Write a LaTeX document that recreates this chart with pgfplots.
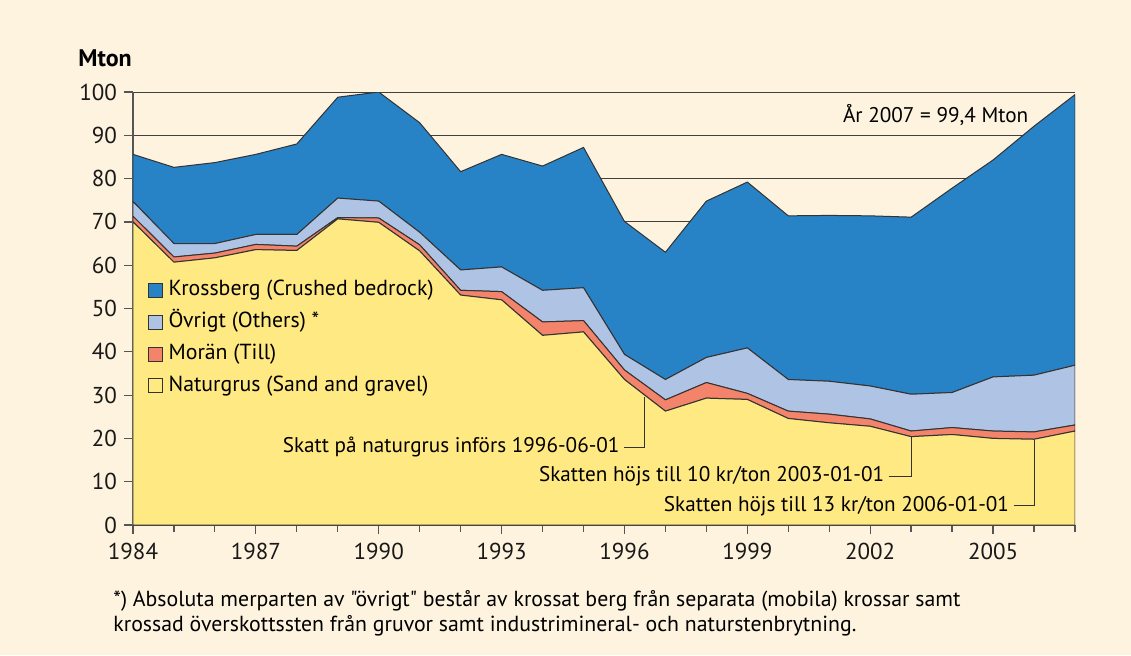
\documentclass[border=0pt]{standalone}
\usepackage{pgfplots}
\pgfplotsset{compat=1.18}
\usepackage{fontspec}
\setmainfont{PT Sans}[Ligatures=TeXOff]
\definecolor{bg}{HTML}{FEF3DF}
\definecolor{sand}{HTML}{FFE983}
\definecolor{moran}{HTML}{F3836A}
\definecolor{ovrigt}{HTML}{AFC4E4}
\definecolor{kross}{HTML}{2882C6}
\definecolor{edge}{HTML}{333333}
\definecolor{axgray}{HTML}{555555}
\begin{document}
\begin{tikzpicture}[x=0.5pt,y=0.5pt]
\fill[bg] (-133,-130) rectangle (998,525);
\begin{axis}[
  at={(0,0)}, anchor=south west, scale only axis,
  width=471pt, height=216.5pt,
  xmin=1984, xmax=2007, ymin=0, ymax=100,
  axis x line*=bottom, axis y line*=left,
  axis line style={draw=axgray, line width=0.6pt, -},
  tick align=outside,
  xtick={1984,1987,...,2005}, minor xtick={1984,...,2007},
  ytick={0,10,...,100},
  major tick length=4.5pt, minor tick length=3.5pt,
  tick style={draw=axgray, line width=0.6pt},
  ymajorgrids, grid style={draw=black!75, line width=0.5pt},
  /pgf/number format/assume math mode=true,
  /pgf/number format/1000 sep={},
  tick label style={font=\fontsize{11.5}{13}\selectfont, text=black!90},
  xticklabel style={yshift=-1pt},
  stack plots=y,
  reverse legend,
  legend cell align=left,
  legend image code/.code={\draw[#1, draw=edge, line width=0.5pt] (0pt,-3.5pt) rectangle (7pt,3.5pt); \path (10pt,0pt);},
  legend style={draw=none, fill=none, at={(axis cs:1984.2,57.5)}, anchor=north west,
    font=\fontsize{10.9}{12}\selectfont, row sep=5.9pt,
    nodes={inner sep=0pt, text height=7.6pt, text depth=2.4pt},
    /tikz/every even column/.append style={column sep=0pt}},
]
\addplot[fill=sand, draw=edge, line width=0.5pt] coordinates {
(1984,70.0) (1985,60.7) (1986,61.7) (1987,63.6) (1988,63.4) (1989,70.7) (1990,69.9) (1991,63.3)
(1992,53.1) (1993,52.0) (1994,43.8) (1995,44.6) (1996,33.6) (1997,26.3) (1998,29.3) (1999,29.0)
(2000,24.6) (2001,23.6) (2002,22.8) (2003,20.4) (2004,20.9) (2005,20.0) (2006,19.8) (2007,21.7)} \closedcycle;
\addlegendentry{Naturgrus (Sand and gravel)}
\addplot[fill=moran, draw=edge, line width=0.5pt] coordinates {
(1984,1.3) (1985,1.2) (1986,1.1) (1987,1.2) (1988,1.0) (1989,0.3) (1990,1.0) (1991,1.4)
(1992,1.1) (1993,1.9) (1994,3.1) (1995,2.6) (1996,2.2) (1997,2.6) (1998,3.6) (1999,1.4)
(2000,1.7) (2001,2.0) (2002,1.7) (2003,1.3) (2004,1.6) (2005,1.7) (2006,1.7) (2007,1.4)} \closedcycle;
\addlegendentry{Morän (Till)}
\addplot[fill=ovrigt, draw=edge, line width=0.5pt] coordinates {
(1984,3.4) (1985,3.1) (1986,2.2) (1987,2.3) (1988,2.7) (1989,4.5) (1990,3.9) (1991,2.9)
(1992,4.7) (1993,5.7) (1994,7.3) (1995,7.6) (1996,3.6) (1997,4.7) (1998,5.8) (1999,10.5)
(2000,7.3) (2001,7.6) (2002,7.6) (2003,8.5) (2004,8.1) (2005,12.5) (2006,13.1) (2007,13.8)} \closedcycle;
\addlegendentry{Övrigt (Others) *}
\addplot[fill=kross, draw=edge, line width=0.5pt] coordinates {
(1984,10.9) (1985,17.6) (1986,18.7) (1987,18.5) (1988,20.9) (1989,23.3) (1990,25.2) (1991,25.3)
(1992,22.7) (1993,26.0) (1994,28.7) (1995,32.4) (1996,30.7) (1997,29.4) (1998,36.1) (1999,38.3)
(2000,37.8) (2001,38.3) (2002,39.3) (2003,40.9) (2004,47.2) (2005,50.1) (2006,57.5) (2007,62.5)} \closedcycle;
\addlegendentry{Krossberg (Crushed bedrock)}
\coordinate (t0) at (axis cs:2005.87,94.7);
\coordinate (t1) at (axis cs:1995.89,18.0);
\coordinate (l1a) at (axis cs:1995.99,18.0);
\coordinate (l1b) at (axis cs:1996.48,29.6);
\coordinate (t2) at (axis cs:2002.35,11.3);
\coordinate (l2a) at (axis cs:2002.45,11.3);
\coordinate (l2b) at (axis cs:2003.0,20.4);
\coordinate (t3) at (axis cs:2005.40,4.4);
\coordinate (l3a) at (axis cs:2005.50,4.4);
\coordinate (l3b) at (axis cs:2006.0,19.6);
\end{axis}
\begin{scope}[every node/.style={anchor=east, inner sep=0pt, font=\fontsize{10.6}{12}\selectfont}]
\node at (t0) {År 2007 = 99,4 Mton};
\node at (t1) {Skatt på naturgrus införs 1996-06-01};
\node at (t2) {Skatten höjs till 10 kr/ton 2003-01-01};
\node at (t3) {Skatten höjs till 13 kr/ton 2006-01-01};
\end{scope}
\draw[edge, line width=0.5pt] (l1a) -| (l1b);
\draw[edge, line width=0.5pt] (l2a) -| (l2b);
\draw[edge, line width=0.5pt] (l3a) -| (l3b);
\node[anchor=west, inner sep=0pt, font=\fontsize{12}{14}\selectfont\bfseries] at (-55,467) {Mton};
\node[anchor=west, inner sep=0pt, font=\fontsize{10.9}{12}\selectfont] at (-20,-76) {*) Absoluta merparten av "övrigt" består av krossat berg från separata (mobila) krossar samt};
\node[anchor=west, inner sep=0pt, font=\fontsize{10.9}{12}\selectfont] at (-20,-101) {krossad överskottssten från gruvor samt industrimineral- och naturstenbrytning.};
\end{tikzpicture}
\end{document}
